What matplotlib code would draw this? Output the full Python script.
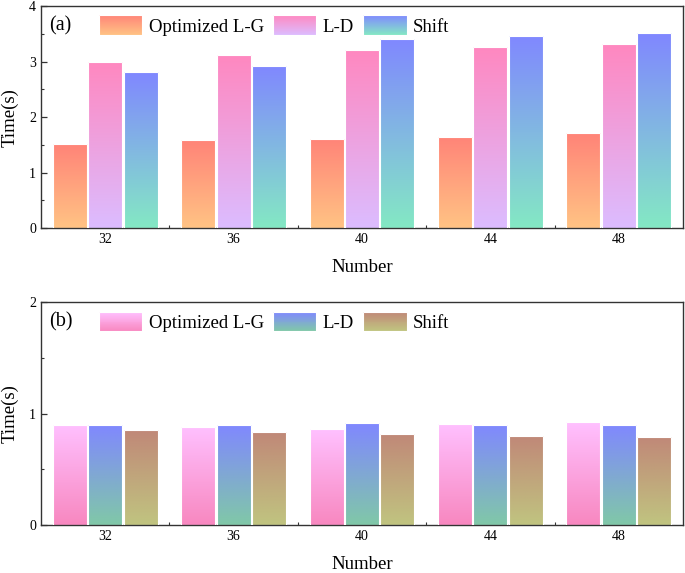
import numpy as np
import matplotlib
matplotlib.use('Agg')
import matplotlib.pyplot as plt
from matplotlib.colors import to_rgb
from matplotlib.patches import Rectangle
from matplotlib.ticker import FixedLocator, MultipleLocator

plt.rcParams['font.family'] = ['Liberation Serif', 'DejaVu Serif']

numbers = [32, 36, 40, 44, 48]
series = ['Optimized L-G', 'L-D', 'Shift']

# panel (a)
time_a_opt = [1.51, 1.58, 1.61, 1.64, 1.71]
time_a_ld = [3.00, 3.11, 3.21, 3.27, 3.31]
time_a_shift = [2.81, 2.92, 3.41, 3.46, 3.51]

# panel (b)
time_b_opt = [0.90, 0.88, 0.86, 0.91, 0.92]
time_b_ld = [0.90, 0.90, 0.915, 0.90, 0.90]
time_b_shift = [0.855, 0.835, 0.82, 0.80, 0.79]

# gradient colours (top, bottom)
grad_a = [('#FF8478', '#FFC384'), ('#FF88C0', '#DCBCFF'), ('#8088FF', '#84E8C4')]
grad_b = [('#FFC0FF', '#F888C0'), ('#8088FF', '#80C8A8'), ('#C08878', '#C0C480')]


def make_grad(top, bottom, n=64):
    t = np.linspace(0, 1, n)[:, None]
    c0 = np.array(to_rgb(bottom))
    c1 = np.array(to_rgb(top))
    return (c0 * (1 - t) + c1 * t)[:, None, :]


class GradientHandler:
    def __init__(self, top, bottom):
        self.top = top
        self.bottom = bottom

    def legend_artist(self, legend, orig_handle, fontsize, handlebox):
        x0, y0 = handlebox.xdescent, handlebox.ydescent
        w, h = handlebox.width, handlebox.height
        n = 20
        c0 = np.array(to_rgb(self.bottom))
        c1 = np.array(to_rgb(self.top))
        for i in range(n):
            t = (i + 0.5) / n
            sh = h / n if i == n - 1 else h / n + 0.3
            r = Rectangle((-x0, -y0 + h * i / n), w, sh,
                          facecolor=c0 * (1 - t) + c1 * t, edgecolor='none',
                          transform=handlebox.get_transform())
            handlebox.add_artist(r)
        r = Rectangle((-x0, -y0), w, h, facecolor='none', edgecolor='white',
                      lw=0.8, transform=handlebox.get_transform())
        handlebox.add_artist(r)
        return r


def draw_panel(ax, data, grads, ymax, tag):
    width = 1.06
    offsets = [-1.1, 0, 1.1]
    handles = []
    for vals, off, (top, bottom) in zip(data, offsets, grads):
        grad = make_grad(top, bottom)
        bars = ax.bar([x + off for x in numbers], vals, width=width, facecolor='none',
                      edgecolor='#FFFFFF', lw=0.8, zorder=3)
        for p in bars.patches:
            x0 = p.get_x()
            im = ax.imshow(grad, extent=[x0, x0 + p.get_width(), 0, p.get_height()],
                           aspect='auto', origin='lower', zorder=2,
                           interpolation='bilinear')
            im.set_clip_path(p)
        handles.append(bars[0])

    ax.set_xlim(30, 50)
    ax.set_ylim(0, ymax)
    ax.set_xticks(numbers)
    ax.xaxis.set_minor_locator(FixedLocator([34, 38, 42, 46]))
    ax.yaxis.set_major_locator(MultipleLocator(1))
    ax.yaxis.set_minor_locator(MultipleLocator(0.5))
    ax.tick_params(which='both', direction='in', labelsize=10, color='#333333')
    ax.tick_params(which='major', length=4, width=0.9)
    ax.tick_params(which='minor', length=2.5, width=0.8)
    for s in ax.spines.values():
        s.set_color('#333333')
        s.set_linewidth(1.0)

    ax.set_xlabel('Number', fontsize=13.5)
    ax.set_ylabel('Time(s)', fontsize=13.5)
    ax.xaxis.set_label_coords(0.5, -0.14)
    ax.yaxis.set_label_coords(-0.035, 0.5)

    ax.text(0.013, 0.912, tag, transform=ax.transAxes, fontsize=14.5, va='center', ha='left')
    hmap = {h: GradientHandler(t, b) for h, (t, b) in zip(handles, grads)}
    ax.legend(handles, series, handler_map=hmap, loc='center left',
              bbox_to_anchor=(0.0903, 0.912), ncol=3, frameon=False, fontsize=13.5,
              handlelength=2.3, handleheight=1.25, handletextpad=0.35,
              columnspacing=0.5, borderpad=0, borderaxespad=0)


def main():
    fig = plt.figure(figsize=(6.85, 5.73), dpi=100)
    ax1 = fig.add_axes([0.0599, 0.602, 0.937, 0.3874])
    ax2 = fig.add_axes([0.0599, 0.0838, 0.937, 0.389])

    draw_panel(ax1, [time_a_opt, time_a_ld, time_a_shift], grad_a, 4, '(a)')
    draw_panel(ax2, [time_b_opt, time_b_ld, time_b_shift], grad_b, 2, '(b)')

    fig.savefig('out.png', dpi=100)


if __name__ == '__main__':

    main()
